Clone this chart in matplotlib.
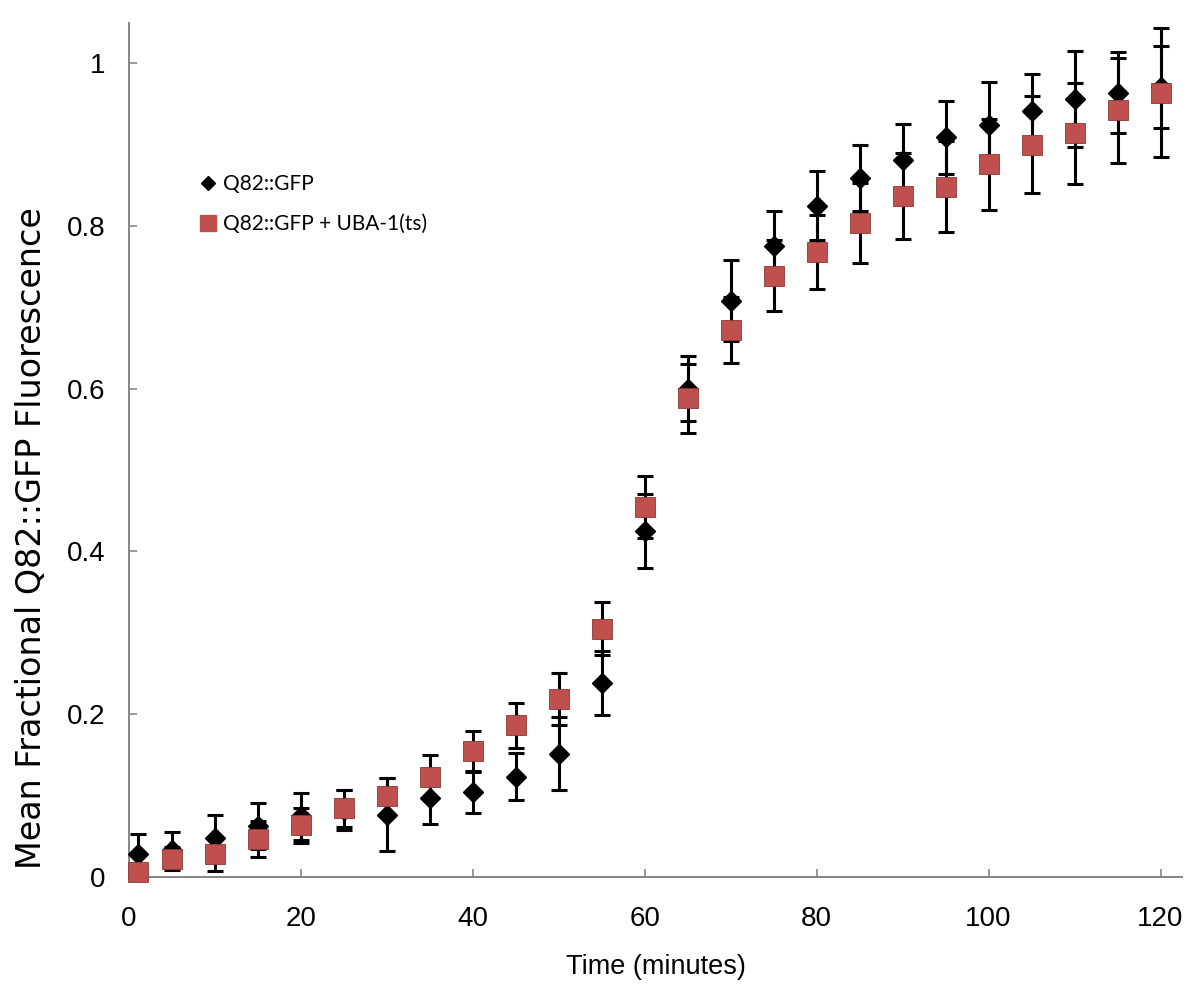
import numpy as np
import matplotlib.pyplot as plt
from matplotlib.lines import Line2D

# time points (minutes)
time_min = [1, 5, 10, 15, 20, 25, 30, 35, 40, 45, 50, 55, 60,
            65, 70, 75, 80, 85, 90, 95, 100, 105, 110, 115, 120]

# Q82::GFP
gfp = [0.028, 0.033, 0.047, 0.062, 0.074, 0.082, 0.076, 0.097, 0.104, 0.123, 0.151, 0.238, 0.425,
       0.600, 0.708, 0.776, 0.825, 0.859, 0.881, 0.909, 0.924, 0.941, 0.956, 0.964, 0.971]
gfp_err = [0.025, 0.022, 0.029, 0.028, 0.029, 0.025, 0.045, 0.032, 0.026, 0.029, 0.045, 0.039, 0.045,
           0.040, 0.050, 0.042, 0.042, 0.040, 0.045, 0.045, 0.053, 0.046, 0.059, 0.050, 0.050]

# Q82::GFP + UBA-1(ts)
uba = [0.006, 0.022, 0.028, 0.046, 0.063, 0.084, 0.099, 0.123, 0.154, 0.186, 0.218, 0.305, 0.454,
       0.588, 0.672, 0.739, 0.768, 0.804, 0.837, 0.848, 0.876, 0.900, 0.914, 0.942, 0.964]
uba_err = [0.008, 0.014, 0.021, 0.022, 0.022, 0.023, 0.022, 0.027, 0.025, 0.028, 0.032, 0.033, 0.038,
           0.042, 0.041, 0.044, 0.046, 0.049, 0.053, 0.056, 0.056, 0.060, 0.062, 0.064, 0.079]

labels = ['Q82::GFP', 'Q82::GFP + UBA-1(ts)']
xticks = [0, 20, 40, 60, 80, 100, 120]
yticks = [0, 0.2, 0.4, 0.6, 0.8, 1.0]
ytick_labels = ['0', '0.2', '0.4', '0.6', '0.8', '1']

red = '#C0504D'
grey = '#868686'
sans = ['Liberation Sans', 'DejaVu Sans']

fig = plt.figure(figsize=(12, 9.85), dpi=100)
ax = fig.add_axes([0.1075, 0.110, 0.8775, 0.867])

# error bars first, markers on top
ax.errorbar(time_min, gfp, yerr=gfp_err, fmt='none', ecolor='black',
            elinewidth=2.2, capsize=5.5, capthick=2.2, zorder=2)
ax.errorbar(time_min, uba, yerr=uba_err, fmt='none', ecolor='black',
            elinewidth=2.2, capsize=5.5, capthick=2.2, zorder=2)
ax.plot(time_min, gfp, linestyle='none', marker='D', markersize=10.5,
        color='black', zorder=3, clip_on=False)
ax.plot(time_min, uba, linestyle='none', marker='s', markersize=14,
        markerfacecolor=red, markeredgecolor='#8a3a38', markeredgewidth=0.6,
        zorder=4, clip_on=False)

ax.set_xlim(0, 122.5)
ax.set_ylim(0, 1.05)
ax.set_xticks(xticks)
ax.set_yticks(yticks)
ax.set_yticklabels(ytick_labels)

for s in ['top', 'right']:
    ax.spines[s].set_visible(False)
for s in ['left', 'bottom']:
    ax.spines[s].set_color(grey)
    ax.spines[s].set_linewidth(1.4)

ax.tick_params(axis='both', direction='in', length=6, width=1.2, color=grey)
ax.tick_params(axis='x', pad=21)
ax.tick_params(axis='y', pad=17)
for lab in ax.get_xticklabels() + ax.get_yticklabels():
    lab.set_family(sans)
    lab.set_fontsize(20)

ax.set_xlabel('Time (minutes)', family=sans, fontsize=19.5, labelpad=16)
ax.set_ylabel('Mean Fractional Q82::GFP Fluorescence', family='DejaVu Sans',
              fontsize=24)
ax.yaxis.set_label_coords(-0.077, 0.397)

handles = [Line2D([], [], linestyle='none', marker='D', markersize=7, color='black'),
           Line2D([], [], linestyle='none', marker='s', markersize=11,
                  markerfacecolor=red, markeredgecolor=red)]
leg = ax.legend(handles, labels, loc='upper left', bbox_to_anchor=(0.151, 0.842),
                bbox_transform=fig.transFigure, frameon=False, handlelength=0.8,
                handletextpad=0.3, labelspacing=0.95,
                prop={'family': ['Lato', 'DejaVu Sans'], 'size': 15})

fig.savefig('out.png', dpi=100)
